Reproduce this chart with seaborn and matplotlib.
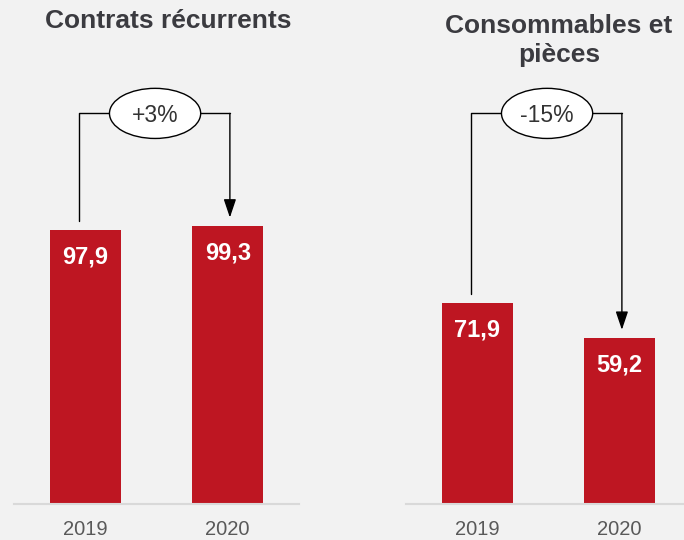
import matplotlib
matplotlib.use('Agg')
import matplotlib.pyplot as plt
from matplotlib.patches import Ellipse
import seaborn as sns
import pandas as pd

years = ['2019', '2020']
contrats = [97.9, 99.3]
consommables = [71.9, 59.2]
titles = ['Contrats récurrents', 'Consommables et\npièces']
growth = ['+3%', '-15%']

bar_color = '#be1622'
bg = '#f2f2f2'
title_color = '#3b3b40'

sns.set_theme(style='white')
plt.rcParams['font.family'] = ['Liberation Sans', 'DejaVu Sans']

fig = plt.figure(figsize=(6.84, 5.4), dpi=100, facecolor=bg)

panels = [contrats, consommables]
lefts = [14 / 684, 406 / 684]
for i, vals in enumerate(panels):
    ax = fig.add_axes([lefts[i], 36 / 540, 285 / 684, 420 / 540])
    ax.set_facecolor(bg)
    df = pd.DataFrame({'year': years, 'value': vals})
    sns.barplot(data=df, x='year', y='value', color=bar_color, saturation=1,
                width=0.5, ax=ax, order=years, linewidth=0)
    ax.set_xlim(-0.5, 1.5)
    ax.set_ylim(0, 150)
    ax.set_xlabel('')
    ax.set_ylabel('')
    ax.set_yticks([])
    for s in ['top', 'left', 'right']:
        ax.spines[s].set_visible(False)
    ax.spines['bottom'].set_color('#d9d9d9')
    ax.spines['bottom'].set_linewidth(1.5)
    ax.tick_params(axis='x', length=0, pad=11.5, labelsize=14.5, labelcolor='#595959')

    # value labels inside the bars
    for j, v in enumerate(vals):
        ax.annotate(f'{v:.1f}'.replace('.', ','), xy=(j, v), xytext=(0, -24),
                    textcoords='offset points', ha='center', va='baseline',
                    fontsize=17, fontweight='bold', color='white')

    # growth bracket
    level = 139.5
    xa, xb = -0.045, 1.015
    ax.plot([xa, xa, xb], [vals[0] + 3, level, level], color='black', lw=1, clip_on=False)
    ax.annotate('', xy=(xb, vals[1] + 3), xytext=(xb, level),
                arrowprops=dict(arrowstyle='-|>,head_length=0.8,head_width=0.27',
                                color='black', lw=1, mutation_scale=14,
                                shrinkA=0, shrinkB=0))
    ax.add_patch(Ellipse((0.49, level), width=0.64, height=17.9, facecolor='white',
                         edgecolor='black', lw=1, zorder=5, clip_on=False))
    ax.text(0.49, level, growth[i], ha='center', va='center_baseline',
            fontsize=16.5, color='#333333', zorder=6)

fig.text(168 / 684, 1 - 27.5 / 540, titles[0], ha='center', va='baseline',
         fontsize=19, fontweight='bold', color=title_color)
fig.text(559 / 684, 1 - 62 / 540, titles[1], ha='center', va='baseline', linespacing=1.27,
         fontsize=19, fontweight='bold', color=title_color)

fig.savefig('out.png', dpi=100, facecolor=bg)
